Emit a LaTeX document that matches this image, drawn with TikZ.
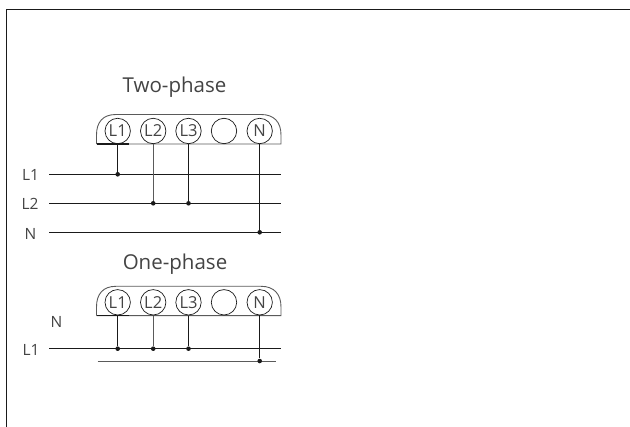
\documentclass[tikz,border=0pt]{standalone}
\usepackage{fontspec}
\setmainfont{Open Sans}
\definecolor{ink}{HTML}{1A1A1A}
\definecolor{txt}{HTML}{444444}
\definecolor{bar}{HTML}{5A5A5A}
\tikzset{
  term/.style={circle,draw=ink,line width=0.7pt,minimum size=25.4pt,inner sep=0pt,font=\fontsize{16.5}{17}\selectfont,text=txt},
  lab/.style={font=\fontsize{15.5}{17}\selectfont,text=txt,inner sep=0pt},
  title/.style={font=\fontsize{20.5}{23}\selectfont,text=txt,inner sep=0pt},
  wire/.style={ink,line width=0.8pt},
  graywire/.style={bar,line width=0.9pt},
  housing/.style={bar,line width=0.9pt},
  jn/.style={circle,fill=ink,inner sep=0pt,minimum size=4.6pt},
}
\begin{document}
\begin{tikzpicture}[x=1pt,y=-1pt]
\useasboundingbox (0,0) rectangle (630,427);
\coordinate (frameA) at (6.5,427);
\coordinate (frameB) at (6.5,9.5);
\coordinate (frameC) at (630,9.5);
\draw[ink,line width=0.9pt] (frameA) -- (frameB) -- (frameC);

% ---- Two-phase
\node[title] (t1) at (174.5,87) {Two-phase};
\coordinate (h1a) at (96.5,144);
\coordinate (h1b) at (281,144);
\coordinate (h1c) at (129,144);
\draw[housing] (h1a) -- (96.5,135) .. controls (96.5,122) and (103,114.5) .. (116,114.5) -- (261,114.5) .. controls (274,114.5) and (281,122) .. (281,135) -- (h1b) -- (h1a);
\draw[ink,line width=1.4pt] (h1a) -- (h1c);
\node[term] (a1) at (117.7,131) {L1};
\node[term] (a2) at (153.2,131) {L2};
\node[term] (a3) at (188.5,131) {L3};
\node[term] (a4) at (224,131) {};
\node[term] (a5) at (259.7,131) {N};
\node[lab] (lL1) at (30.5,175) {L1};
\node[lab] (lL2) at (30,204) {L2};
\node[lab] (lN) at (30.5,233.5) {N};
\coordinate (w1s) at (49,174.3); \coordinate (w1e) at (281,174.3);
\coordinate (w2s) at (49,203.3); \coordinate (w2e) at (281,203.3);
\coordinate (w3s) at (49,232.3); \coordinate (w3e) at (281,232.3);
\draw[wire] (w1s) -- (w1e);
\draw[wire] (w2s) -- (w2e);
\draw[wire] (w3s) -- (w3e);
\node[jn] (j1) at (117.7,174.3) {};
\node[jn] (j2) at (153.2,203.3) {};
\node[jn] (j3) at (188.5,203.3) {};
\node[jn] (j4) at (259.7,232.3) {};
\draw[wire] (117.7,144) -- (j1);
\draw[graywire] (a2) -- (j2);
\draw[wire] (a3) -- (j3);
\draw[wire] (a5) -- (j4);

% ---- One-phase
\node[title] (t2) at (175,264) {One-phase};
\coordinate (h2a) at (96.5,315.7);
\coordinate (h2b) at (281,315.7);
\coordinate (h2c) at (129,315.7);
\draw[housing] (h2a) -- (96.5,307) .. controls (96.5,294) and (103,286.3) .. (116,286.3) -- (261,286.3) .. controls (274,286.3) and (281,294) .. (281,307) -- (h2b) -- (h2a);
\draw[ink,line width=1.4pt] (h2a) -- (h2c);
\node[term] (b1) at (117.7,302.3) {L1};
\node[term] (b2) at (153.2,302.3) {L2};
\node[term] (b3) at (188.5,302.3) {L3};
\node[term] (b4) at (224,302.3) {};
\node[term] (b5) at (259.7,302.3) {N};
\node[lab] (mN) at (56.5,322) {N};
\node[lab] (mL1) at (31,349.5) {L1};
\coordinate (v1s) at (49,348.7); \coordinate (v1e) at (281,348.7);
\coordinate (v2s) at (97.5,361); \coordinate (v2e) at (276,361);
\draw[wire] (v1s) -- (v1e);
\draw[graywire] (v2s) -- (v2e);
\node[jn] (k1) at (117.7,348.7) {};
\node[jn] (k2) at (153.2,348.7) {};
\node[jn] (k3) at (188.5,348.7) {};
\node[jn] (k4) at (259.7,361) {};
\draw[wire] (117.7,315.7) -- (k1);
\draw[graywire] (153.2,315.7) -- (k2);
\draw[wire] (188.5,315.7) -- (k3);
\draw[wire] (b5) -- (k4);
\end{tikzpicture}
\end{document}
